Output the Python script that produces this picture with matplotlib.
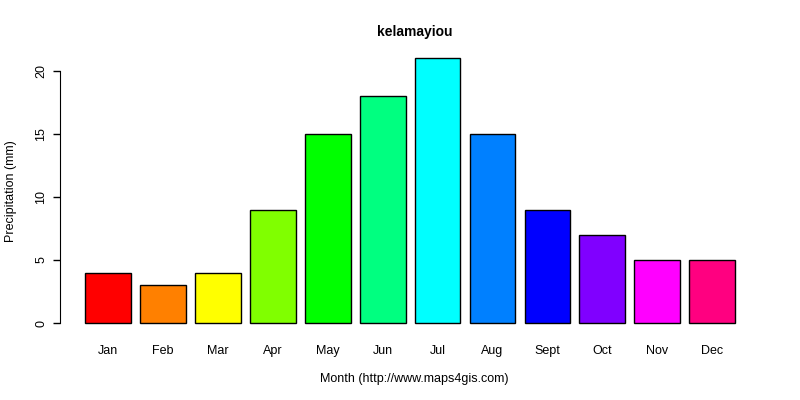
import matplotlib
matplotlib.use("Agg")
import matplotlib.pyplot as plt
import numpy as np

plt.rcParams['font.family'] = ['Liberation Sans', 'DejaVu Sans']

# monthly precipitation
months = ['Jan', 'Feb', 'Mar', 'Apr', 'May', 'Jun',
          'Jul', 'Aug', 'Sept', 'Oct', 'Nov', 'Dec']
precip = [4, 3, 4, 9, 15, 18, 21, 15, 9, 7, 5, 5]
colors = ['#FF0000', '#FF8000', '#FFFF00', '#80FF00', '#00FF00', '#00FF80',
          '#00FFFF', '#0080FF', '#0000FF', '#8000FF', '#FF00FF', '#FF0080']
yticks = [0, 5, 10, 15, 20]

fig = plt.figure(figsize=(8, 4), dpi=100)
ax = fig.add_axes([59.0 / 800, 66.4 / 400, 711.5 / 800, 285.8 / 400])

# R style barplot positions: width 1, space 0.2
x = 0.2 + np.arange(len(months)) * 1.2 + 0.5
ax.bar(x, precip, width=1.0, color=colors, edgecolor='black', linewidth=1)

span = (0.2, 0.2 + len(months) * 1.2)
pad = (span[1] - span[0]) * 0.04
ax.set_xlim(span[0] - pad, span[1] + pad)
ymax = max(precip)
ax.set_ylim(-ymax * 0.04, ymax * 1.04)

for s in ['top', 'right', 'bottom']:
    ax.spines[s].set_visible(False)
ax.spines['left'].set_bounds(0, 20)
ax.spines['left'].set_position(('data', span[0] - pad + 0.02))

ax.set_yticks(yticks)
ax.set_yticklabels([str(v) for v in yticks], rotation=90, va='center', fontsize=9)
ax.tick_params(axis='y', length=5, width=1, pad=4)

ax.set_xticks(x)
ax.set_xticklabels(months, fontsize=9)
ax.tick_params(axis='x', length=0, pad=8.5)

ax.set_title('kelamayiou', fontsize=10, fontweight='bold', pad=8.5)
ax.set_xlabel('Month (http://www.maps4gis.com)', fontsize=9, labelpad=11)
ax.set_ylabel('Precipitation (mm)', fontsize=9, labelpad=13)

fig.savefig('out.png', dpi=100)
